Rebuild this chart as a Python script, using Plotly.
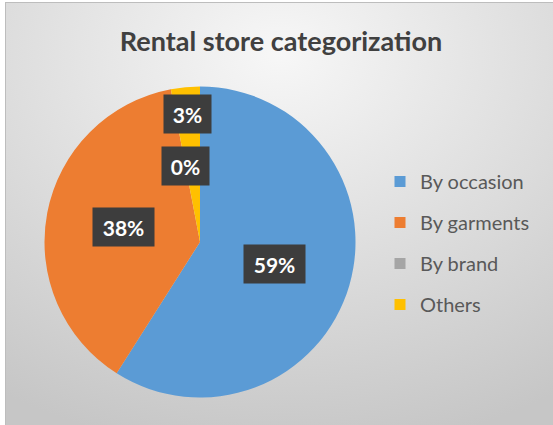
import math
import base64
import plotly.graph_objects as go

# ---- data ----
categories = ["By occasion", "By garments", "By brand", "Others"]
values = [59, 38, 0, 3]
colors = ["#5B9BD5", "#ED7D31", "#A5A5A5", "#FFC000"]
title_text = "Rental store categorization"

W, H = 553, 425
FONT = "Lato"

# pie placement (pixels -> paper fractions, margins are 0)
pie_x = [44.5 / W, 355.5 / W]
pie_y = [1 - 397.5 / H, 1 - 86.5 / H]
radius_px = (pie_x[1] - pie_x[0]) * W / 2

fig = go.Figure()
fig.add_trace(go.Pie(
    labels=categories, values=values, sort=False, direction="clockwise",
    rotation=0, marker=dict(colors=colors, line=dict(width=0)),
    textinfo="none", showlegend=False, domain=dict(x=pie_x, y=pie_y),
    hoverinfo="label+percent",
))

# legend entries (one per category so their spacing can be set)
for lab, col in zip(categories, colors):
    fig.add_trace(go.Scatter(
        x=[None], y=[None], mode="markers", name=lab, legendgroup=lab,
        marker=dict(symbol="square", size=11, color=col),
    ))

# data labels with dark boxes, placed at slice mid-angles
total = sum(values)
label_radius = [0.5, 0.5, 0.5, 0.83]
cx = (pie_x[0] + pie_x[1]) / 2
cy = (pie_y[0] + pie_y[1]) / 2
cum = 0.0
annotations = []
for v, fr in zip(values, label_radius):
    mid = (cum + v / 2) / total * 2 * math.pi
    cum += v
    txt = f"{round(v / total * 100)}%"
    annotations.append(dict(
        x=cx + fr * radius_px * math.sin(mid) / W,
        y=cy + fr * radius_px * math.cos(mid) / H,
        xref="paper", yref="paper", text=f"<b>{txt}</b>", showarrow=False,
        font=dict(family=FONT, size=21, color="white"),
        bgcolor="#3d3d3d", width=14 * len(txt) + 17, height=36,
        xanchor="center", yanchor="middle",
    ))

svg = f'''<svg xmlns="http://www.w3.org/2000/svg" width="{W}" height="{H}">
<defs><radialGradient id="g" cx="50%" cy="12%" r="95%" fx="50%" fy="12%">
<stop offset="0" stop-color="#f7f7f7"/><stop offset="0.55" stop-color="#dcdcdc"/>
<stop offset="1" stop-color="#c6c6c6"/></radialGradient></defs>
<rect x="5.5" y="2.5" width="{W-5}" height="{H-2}" fill="url(#g)" stroke="#bdbdbd" stroke-width="1"/>
</svg>'''
src = "data:image/svg+xml;base64," + base64.b64encode(svg.encode()).decode()

fig.update_layout(
    width=W, height=H,
    margin=dict(l=0, r=0, t=0, b=0),
    paper_bgcolor="white", plot_bgcolor="rgba(0,0,0,0)",
    images=[dict(source=src, xref="paper", yref="paper", x=0, y=1,
                 sizex=1, sizey=1, xanchor="left", yanchor="top",
                 sizing="stretch", layer="below")],
    title=dict(text="<b>" + title_text + "</b>", x=281 / W, xanchor="center",
               y=1 - 42 / H, yanchor="middle",
               font=dict(family=FONT, size=27, color="#404040")),
    xaxis=dict(visible=False), yaxis=dict(visible=False),
    legend=dict(x=380 / W, y=1 - 162 / H, xanchor="left", yanchor="top",
                font=dict(family=FONT, size=20, color="#595959"),
                tracegroupgap=12, bgcolor="rgba(0,0,0,0)", itemwidth=30),
    annotations=annotations,
    showlegend=True,
)

fig.write_html("out.html", config={"displayModeBar": False},
               post_script="document.body.style.margin='0';document.body.style.overflow='hidden';")
